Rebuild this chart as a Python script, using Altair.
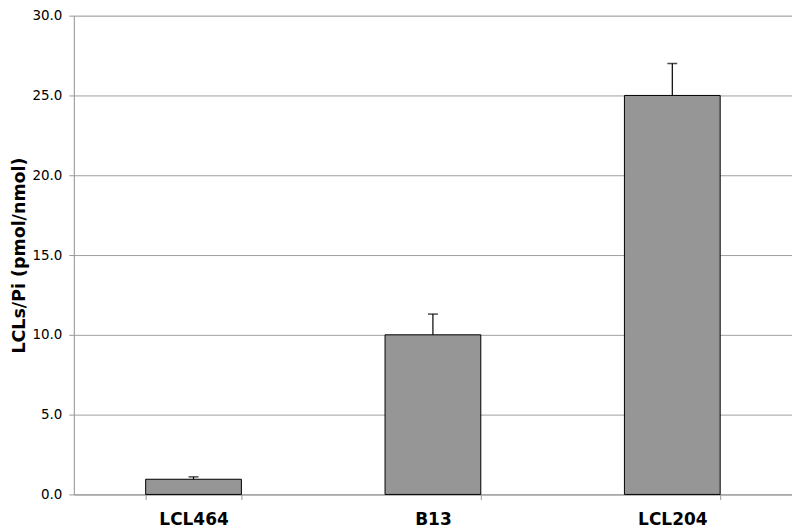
import altair as alt
import pandas as pd

categories = ["LCL464", "B13", "LCL204"]
values = [0.95, 10.0, 25.0]
errors = [0.15, 1.3, 2.0]

df = pd.DataFrame({
    "cat": categories,
    "val": values,
    "upper": [v + e for v, e in zip(values, errors)],
})

font = "DejaVu Sans"

x = alt.X("cat:N", sort=categories, title=None,
          scale=alt.Scale(paddingInner=0.6, paddingOuter=0.3),
          axis=alt.Axis(labelAngle=0, labelFont=font, labelFontSize=17, labelFontWeight="bold",
                        labelColor="black", ticks=True, tickBand="extent", tickSize=5,
                        tickColor="#999999", labelPadding=12,
                        domainColor="#999999"))
y = alt.Y("val:Q", title="LCLs/Pi (pmol/nmol)",
          scale=alt.Scale(domain=[0, 30], nice=False),
          axis=alt.Axis(values=[0, 5, 10, 15, 20, 25, 30], format=".1f",
                        labelFont=font, labelFontSize=13.5, labelColor="black",
                        titleFont=font, titleFontSize=17.5, titleFontWeight="bold",
                        titleColor="black", titlePadding=3,
                        tickSize=5, tickColor="#999999", domainColor="#999999",
                        gridColor="#a0a0a0", labelPadding=7))

bars = alt.Chart(df).mark_bar(color="#969696", stroke="black", strokeWidth=1).encode(x=x, y=y)
rule = alt.Chart(df).mark_rule(color="black", strokeWidth=1.2).encode(
    x=alt.X("cat:N", sort=categories), y="val:Q", y2="upper:Q")
tick = alt.Chart(df).mark_tick(color="black", size=10, thickness=1.5).encode(
    x=alt.X("cat:N", sort=categories), y="upper:Q")

chart = alt.layer(bars, rule, tick).properties(
    width=720, height=480, padding={"left": 2, "top": 0, "right": 0, "bottom": 0}
).configure_view(stroke="#999999", strokeWidth=1.5).configure(background="white")

chart.save("out.html", embed_options={"renderer": "svg", "actions": False})
